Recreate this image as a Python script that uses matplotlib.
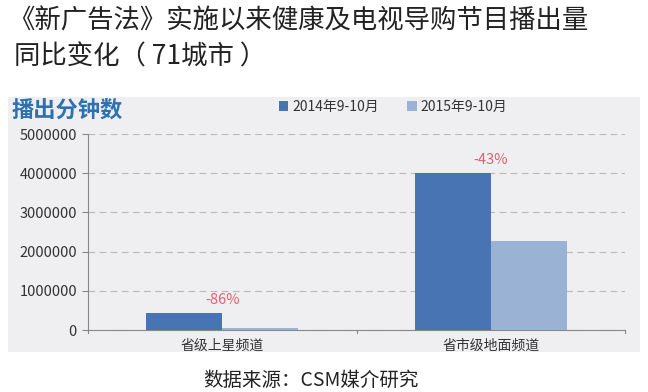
import matplotlib.pyplot as plt
import numpy as np

plt.rcParams['font.family'] = ['Noto Sans CJK SC', 'DejaVu Sans']

# Data
categories = ['省级上星频道', '省市级地面频道']
series_names = ['2014年9-10月', '2015年9-10月']
values_2014 = [430000, 4000000]
values_2015 = [60000, 2280000]
changes = ['-86%', '-43%']

W, H = 648, 392
fig = plt.figure(figsize=(W / 100, H / 100), dpi=100)
fig.patch.set_facecolor('white')

# gray panel behind chart
bg = fig.add_axes([8 / W, 1 - 352 / H, 632 / W, 255 / H], zorder=0)
bg.set_facecolor('#efeff1')
bg.set_xticks([])
bg.set_yticks([])
for s in bg.spines.values():
    s.set_visible(False)

# Title
fig.text(8 / W, 1 - 21 / H, '《新广告法》实施以来健康及电视导购节目播出量',
         fontsize=19, color='#222222', va='center', ha='left')
fig.text(14 / W, 1 - 57 / H, '同比变化（ 71城市 ）',
         fontsize=19, color='#222222', va='center', ha='left')

fig.text(12 / W, 1 - 110 / H, '播出分钟数', fontsize=16, fontweight='bold',
         color='#2d72b0', va='center', ha='left', zorder=2)

ax = fig.add_axes([88 / W, 1 - 330 / H, 537 / W, 196 / H], zorder=1)
ax.set_facecolor('none')

x = np.arange(len(categories))
bw = 0.283
dark = '#4874b3'
light = '#9ab2d3'
ax.bar(x - bw / 2, values_2014, bw, color=dark, label=series_names[0], zorder=3)
ax.bar(x + bw / 2, values_2015, bw, color=light, label=series_names[1], zorder=3)

for i, c in enumerate(changes):
    ax.text(x[i], values_2014[i] + 330000, c, color='#e0606e', fontsize=10.5,
            ha='center', va='center')

ax.set_xlim(-0.5, 1.5)
ax.set_ylim(0, 5000000)
ax.set_yticks(np.arange(0, 5000001, 1000000))
ax.set_yticklabels([str(v) for v in range(0, 5000001, 1000000)],
                   fontsize=10.5, color='#333333')
ax.yaxis.grid(True, linestyle=(0, (6, 4)), color='#b8b8b8', linewidth=0.8)
ax.set_axisbelow(True)

ax.set_xticks(x)
ax.set_xticklabels(categories, fontsize=10, color='#333333')
ax.tick_params(axis='x', length=0, pad=6)
for xb in [-0.5, 0.5, 1.5]:
    ax.plot([xb, xb], [0, -80000], color='#888888', linewidth=0.8,
            clip_on=False)
ax.tick_params(axis='y', length=4, color='#888888', pad=4)

for s in ['top', 'right']:
    ax.spines[s].set_visible(False)
ax.spines['left'].set_color('#888888')
ax.spines['bottom'].set_color('#888888')

leg = fig.legend(loc='center left', bbox_to_anchor=(266 / W, 1 - 107 / H),
                 ncol=2, frameon=False, fontsize=10, handlelength=0.7,
                 handleheight=0.7, handletextpad=0.3, columnspacing=2.0)
leg.set_zorder(2)
for t in leg.get_texts():
    t.set_color('#333333')

fig.text(311 / W, 1 - 380 / H, '数据来源：CSM媒介研究', fontsize=14,
         color='#222222', ha='center', va='center')

fig.savefig('out.png', dpi=100)
